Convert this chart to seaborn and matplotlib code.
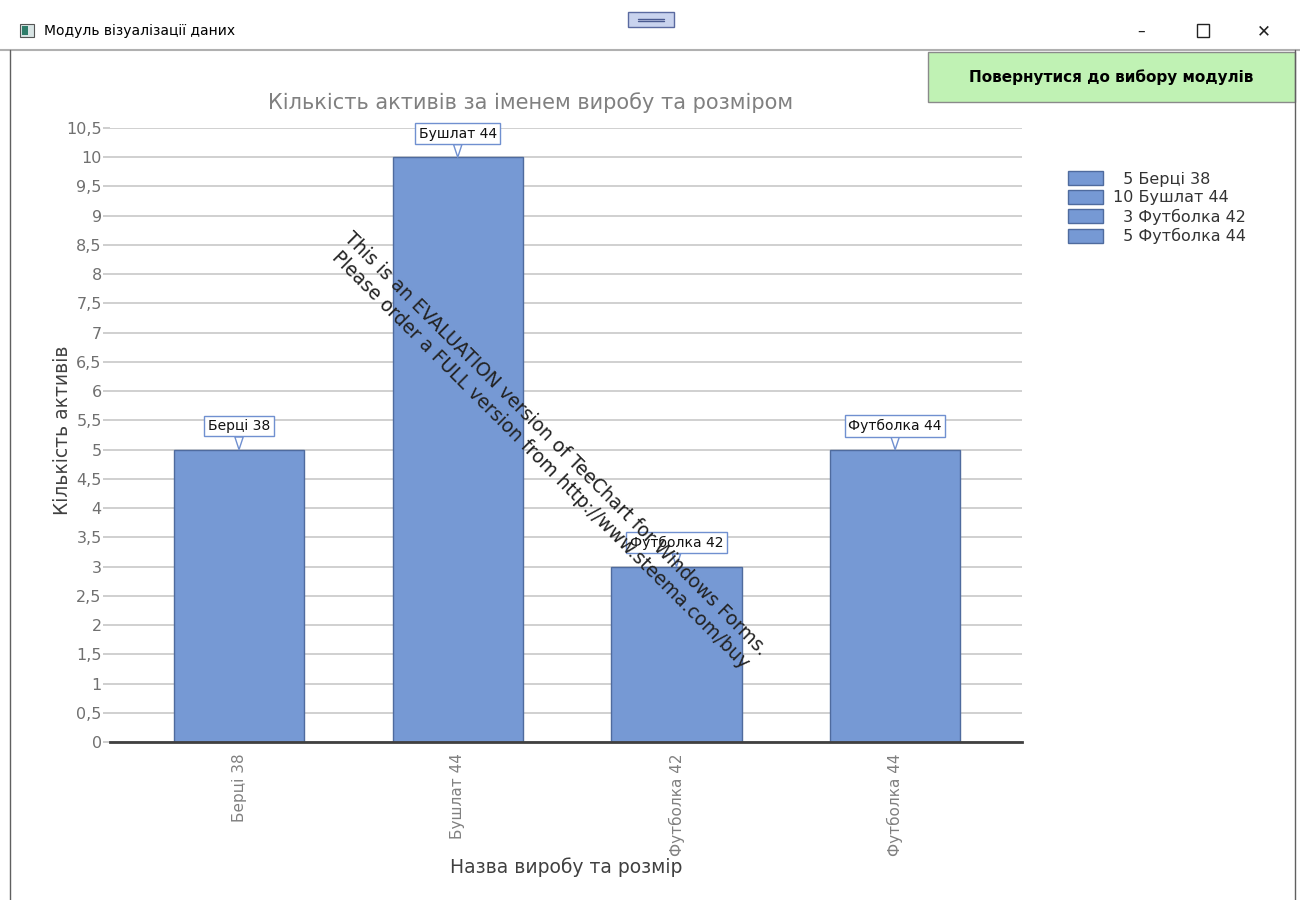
import matplotlib
matplotlib.use("Agg")
import matplotlib.pyplot as plt
from matplotlib.patches import Rectangle, Patch
import seaborn as sns
import pandas as pd

categories = ["Берці 38", "Бушлат 44", "Футболка 42", "Футболка 44"]
values = [5, 10, 3, 5]
yticks = [i * 0.5 for i in range(22)]
title = "Кількість активів за іменем виробу та розміром"
xlabel = "Назва виробу та розмір"
ylabel = "Кількість активів"
window_title = "Модуль візуалізації даних"
button_text = "Повернутися до вибору модулів"
watermark = ["This is an EVALUATION version of TeeChart for Windows Forms.",
             "Please order a FULL version from http://www.steema.com/buy"]

sns.set_theme(style="white")
plt.rcParams['font.family'] = ['DejaVu Sans']

df = pd.DataFrame({"cat": categories, "val": values})

fig = plt.figure(figsize=(13, 9), dpi=100)
fig.patch.set_facecolor("white")

ax = fig.add_axes([110/1300, 1-742/900, (1022-110)/1300, (742-128)/900])
bar_color = "#7699d4"
sns.barplot(data=df, x="cat", y="val", ax=ax, color=bar_color, width=0.595,
            saturation=1, edgecolor="#4f6b9e", linewidth=1.0, zorder=3)

ax.set_xlim(-0.59, 3.58)
ax.set_ylim(0, 10.5)
ax.set_yticks(yticks)
ax.set_yticklabels([f"{t:g}".replace(".", ",") for t in yticks])
ax.yaxis.grid(True, color="#c8c8c8", linewidth=1.2, zorder=0)
ax.set_axisbelow(True)
for s in ["left", "right", "top"]:
    ax.spines[s].set_visible(False)
ax.spines["bottom"].set_color("#404040")
ax.spines["bottom"].set_linewidth(2)
ax.spines["bottom"].set_zorder(5)
ax.tick_params(axis="y", left=True, length=5, color="#c8c8c8", labelsize=11.5,
               labelcolor="#707070", pad=1)
ax.tick_params(axis="x", bottom=False, labelsize=11, labelcolor="#808080",
               labelrotation=90, pad=2)
ax.set_xlabel(xlabel, fontsize=13.5, color="#404040")
ax.xaxis.set_label_coords(0.5, -(867 - 742) / (742 - 128), transform=ax.transAxes)
ax.xaxis.label.set_va("center")
ax.set_ylabel(ylabel, fontsize=13.5, color="#404040")
ax.yaxis.set_label_coords(-(110 - 63) / (1022 - 110), (742 - 430) / (742 - 128))
ax.yaxis.label.set_va("center")
ax.set_title(title, fontsize=15, color="#808080", pad=14,
             x=(531 - 110) / (1022 - 110))

for i, (c, v) in enumerate(zip(categories, values)):
    ax.annotate(c, xy=(i, v), xytext=(0, 17), textcoords="offset points",
                ha="center", va="center", fontsize=10, color="#111111",
                bbox=dict(boxstyle="square,pad=0.25", fc="white", ec="#7090d0", lw=1),
                arrowprops=dict(arrowstyle="wedge,tail_width=0.6", fc="white",
                                ec="#7090d0", lw=1, shrinkA=0, shrinkB=0),
                zorder=6)

# legend
labels = [f"{v:>2}".replace(" ", "\u2007") + " " + c for c, v in zip(categories, values)]
handles = [Patch(facecolor=bar_color, edgecolor="#4f6b9e") for _ in categories]
fig.legend(handles, labels, loc="upper left", bbox_to_anchor=(1060/1300, 1-163/900),
           frameon=False, fontsize=11.5, labelcolor="#333333", handlelength=2.2,
           handleheight=1.0, handletextpad=0.6, labelspacing=0.2, borderpad=0)

# watermark
fig.text(548/1300, 1-452/900, watermark[0] + "\n" + watermark[1],
         rotation=-45, ha="center", va="center", fontsize=13.5, color="#222222",
         linespacing=1.2, zorder=10)

# window chrome
fig.add_artist(plt.Line2D([0, 1], [1-50/900, 1-50/900], color="#b0b0b0", lw=1.5))
fig.add_artist(plt.Line2D([10/1300, 10/1300], [0, 1-50/900], color="#606060", lw=1))
fig.add_artist(plt.Line2D([1295/1300, 1295/1300], [0, 1-50/900], color="#606060", lw=1))
fig.add_artist(Rectangle((20/1300, 1-37/900), 14/1300, 13/900, fc="#d8e4e4", ec="#555555", lw=0.8))
fig.add_artist(Rectangle((22/1300, 1-35/900), 6/1300, 9/900, fc="#2e7d6a", ec="none"))
fig.text(44/1300, 1-31/900, window_title, fontsize=10, color="#000000", va="center", ha="left")
fig.add_artist(Rectangle((628/1300, 1-27/900), 46/1300, 15/900, fc="#c9d3ee", ec="#5a6aa0", lw=1))
fig.add_artist(plt.Line2D([638/1300, 664/1300], [1-18.5/900]*2, color="#4a5a90", lw=1))
fig.add_artist(plt.Line2D([638/1300, 664/1300], [1-21/900]*2, color="#4a5a90", lw=1))
fig.text(1141/1300, 1-31/900, "–", fontsize=11, ha="center", va="center", color="#222222")
fig.add_artist(Rectangle((1197/1300, 1-37/900), 12/1300, 13/900, fc="none", ec="#222222", lw=1))
fig.text(1264/1300, 1-31/900, "✕", fontsize=12, ha="center", va="center", color="#222222")
fig.add_artist(Rectangle((928/1300, 1-102/900), 367/1300, 50/900, fc="#c0f2b4", ec="#8a8a8a", lw=1))
fig.text(1111/1300, 1-77/900, button_text, fontsize=11, fontweight="bold",
         ha="center", va="center", color="#000000")

fig.savefig("out.png", dpi=100)
